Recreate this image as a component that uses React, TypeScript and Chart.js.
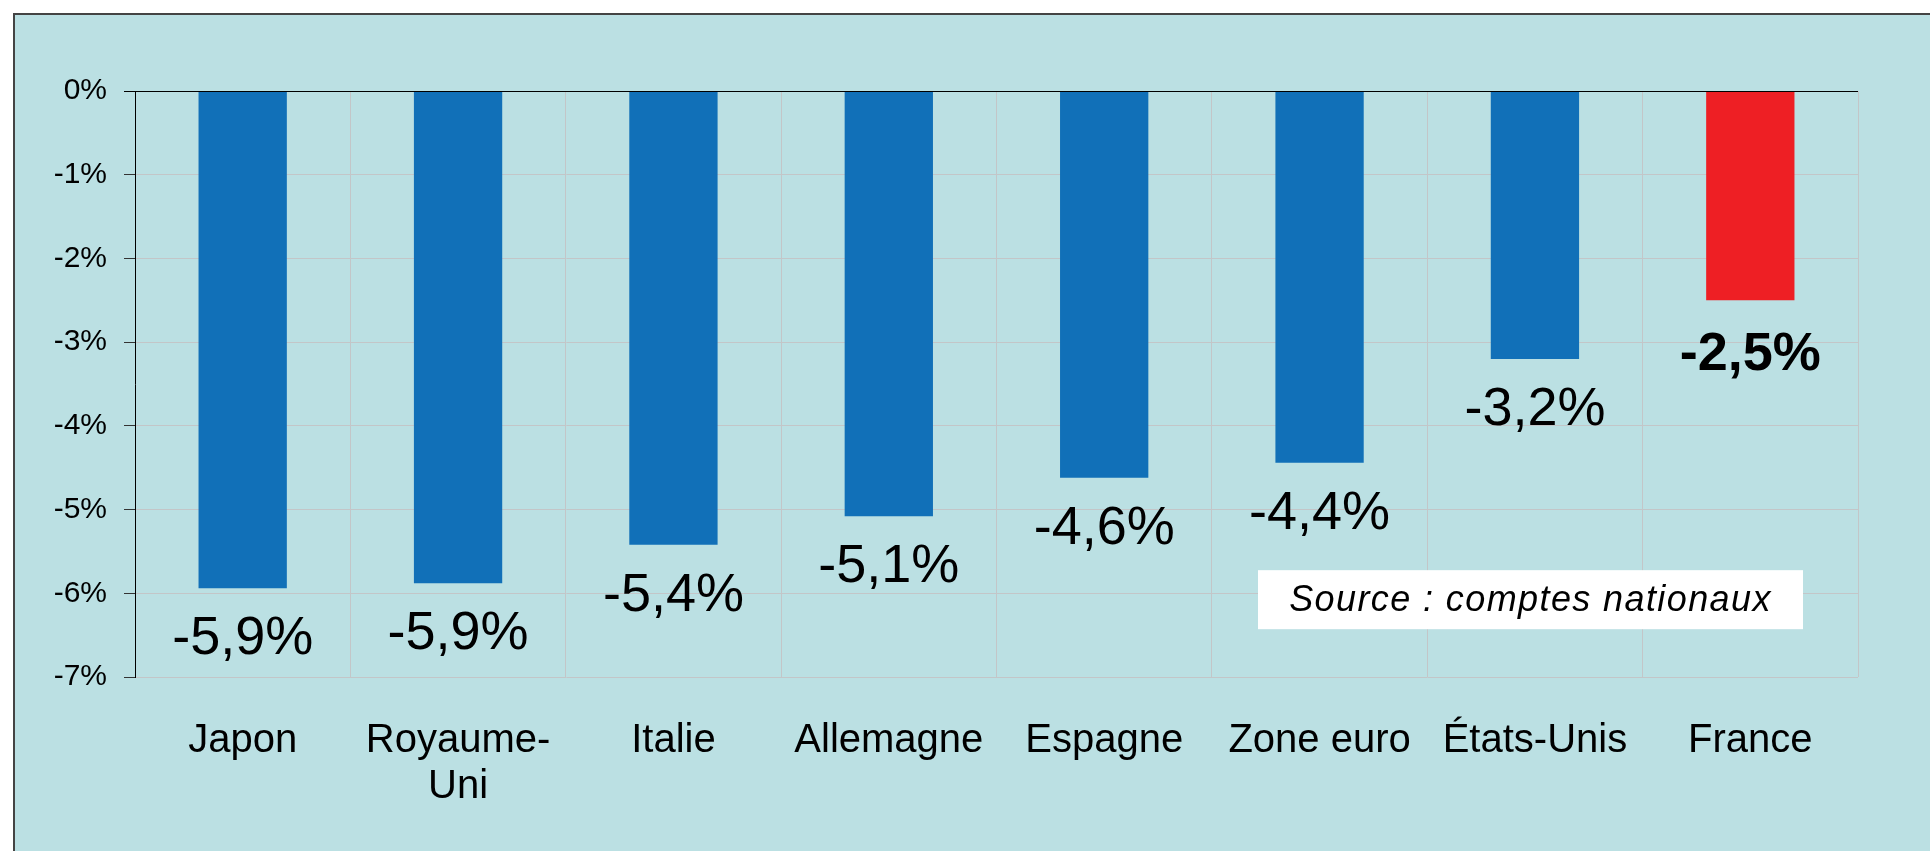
import React, { useEffect, useRef } from 'react';
import { Chart, registerables } from 'chart.js';

Chart.register(...registerables);

const categories: (string | string[])[] = [
  'Japon',
  ['Royaume-', 'Uni'],
  'Italie',
  'Allemagne',
  'Espagne',
  'Zone euro',
  'États-Unis',
  'France',
];
const values = [-5.94, -5.88, -5.42, -5.08, -4.62, -4.44, -3.2, -2.5];
const valueLabels = ['-5,9%', '-5,9%', '-5,4%', '-5,1%', '-4,6%', '-4,4%', '-3,2%', '-2,5%'];
const barColors = ['#1170B8', '#1170B8', '#1170B8', '#1170B8', '#1170B8', '#1170B8', '#1170B8', '#EE1F24'];
const boldLabels = [false, false, false, false, false, false, false, true];
const yTicks = [-7, -6, -5, -4, -3, -2, -1, 0];
const yTickLabels = ['-7%', '-6%', '-5%', '-4%', '-3%', '-2%', '-1%', '0%'];
const sourceText = 'Source : comptes nationaux';

const FONT = '"Liberation Sans", Arial, Helvetica, sans-serif';
const GRID = '#C3C6C8';

const labelPlugin = {
  id: 'valueLabels',
  afterDatasetsDraw(chart: any) {
    const ctx = chart.ctx as CanvasRenderingContext2D;
    const { chartArea } = chart;
    const ys = chart.scales.y;
    ctx.save();
    // zero line on top of bars
    const y0 = Math.round(ys.getPixelForValue(0)) + 0.5;
    ctx.strokeStyle = '#000';
    ctx.lineWidth = 1;
    ctx.beginPath();
    ctx.moveTo(chartArea.left - 11, y0);
    ctx.lineTo(chartArea.right, y0);
    ctx.stroke();

    const meta = chart.getDatasetMeta(0);
    ctx.fillStyle = '#000';
    ctx.textAlign = 'center';
    ctx.textBaseline = 'alphabetic';
    meta.data.forEach((el: any, i: number) => {
      const bold = boldLabels[i];
      ctx.font = `${bold ? 'bold ' : ''}54px ${FONT}`;
      ctx.fillText(valueLabels[i], el.x, el.y + (bold ? 70 : 66));
    });

    // source box
    const bx = chartArea.right - 600;
    const bw = 545;
    const by = ys.getPixelForValue(-5.724);
    const bh = 59;
    ctx.fillStyle = '#fff';
    ctx.fillRect(bx, by, bw, bh);
    ctx.fillStyle = '#000';
    ctx.font = `italic 36px ${FONT}`;
    (ctx as any).letterSpacing = '1.4px';
    ctx.fillText(sourceText, bx + bw / 2, by + 41);
    ctx.restore();
  },
};

export default function App() {
  const ref = useRef<HTMLCanvasElement | null>(null);

  useEffect(() => {
    if (!ref.current) return;
    const chart = new Chart(ref.current, {
      type: 'bar',
      data: {
        labels: categories as any,
        datasets: [
          {
            data: values,
            backgroundColor: barColors,
            borderWidth: 0,
            barPercentage: 0.41,
            categoryPercentage: 1,
          },
        ],
      },
      options: {
        animation: false,
        responsive: false,
        devicePixelRatio: 1,
        layout: { padding: { top: 76, right: 72, left: 0, bottom: 0 } },
        plugins: {
          legend: { display: false },
          tooltip: { enabled: false },
        },
        scales: {
          x: {
            grid: { offset: true, color: GRID, drawTicks: false, lineWidth: 1 },
            border: { display: false },
            ticks: {
              color: '#000',
              font: { size: 40, family: FONT, lineHeight: 1.15 },
              padding: 41,
              maxRotation: 0,
              autoSkip: false,
            },
            afterFit: (s: any) => {
              s.height = 174;
            },
          },
          y: {
            min: -7,
            max: 0,
            afterBuildTicks: (s: any) => {
              s.ticks = yTicks.map((v) => ({ value: v }));
            },
            grid: {
              color: (c: any) => (c.tick && c.tick.value === 0 ? '#000' : GRID),
              tickColor: '#333',
              tickLength: 11,
              lineWidth: 1,
            },
            border: { color: '#000', width: 1 },
            ticks: {
              color: '#000',
              font: { size: 30, family: FONT },
              padding: 17,
              callback: (v: any) => yTickLabels[yTicks.indexOf(Number(v))],
            },
            afterFit: (s: any) => {
              s.width = 120;
            },
          },
        },
      },
      plugins: [labelPlugin],
    });
    return () => chart.destroy();
  }, []);

  return (
    <div
      style={{
        position: 'absolute',
        left: 13,
        top: 13,
        width: 1917,
        height: 838,
        boxSizing: 'border-box',
        borderLeft: '2px solid #444',
        borderTop: '2px solid #444',
        background: '#BBE0E3',
        overflow: 'hidden',
      }}
    >
      <canvas ref={ref} width={1915} height={836} style={{ display: 'block', width: 1915, height: 836 }} />
    </div>
  );
}
